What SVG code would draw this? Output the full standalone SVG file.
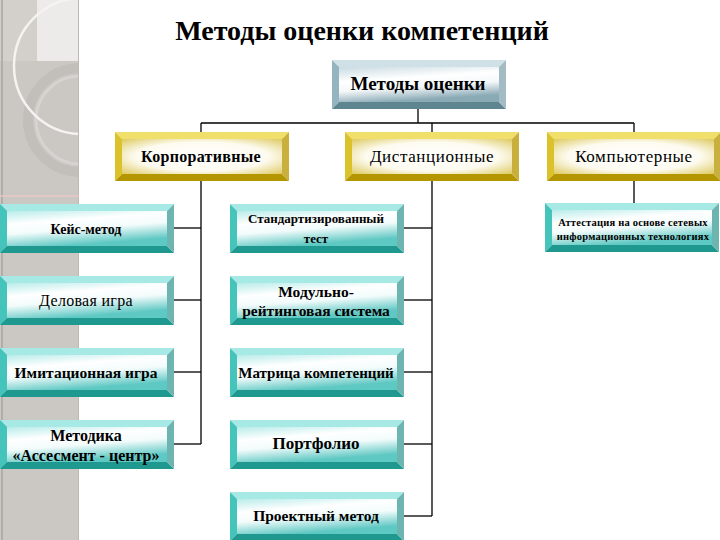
<svg xmlns="http://www.w3.org/2000/svg" width="720" height="540" viewBox="0 0 720 540">
<style>
  text { font-family: "Liberation Serif", "Times New Roman", "DejaVu Serif", serif; fill: #000; text-anchor: middle; }
  .b { font-weight: bold; }
  .conn line { stroke: #000; stroke-width: 1.3; }
</style>
<defs>
  <clipPath id="panelClip"><rect x="0" y="0" width="79" height="540"/></clipPath>
  <linearGradient id="tealFace" x1="0" y1="0" x2="0.35" y2="1">
    <stop offset="0" stop-color="#b8ecea"/>
    <stop offset="0.35" stop-color="#ffffff"/>
    <stop offset="0.6" stop-color="#f2fbfb"/>
    <stop offset="1" stop-color="#5ec8c3"/>
  </linearGradient>
  <radialGradient id="goldFace" cx="0.5" cy="0.5" r="0.75">
    <stop offset="0" stop-color="#ffffff"/>
    <stop offset="0.55" stop-color="#fdfbf0"/>
    <stop offset="1" stop-color="#d9c24a"/>
  </radialGradient>
  <linearGradient id="steelFace" x1="0" y1="0" x2="0.3" y2="1">
    <stop offset="0" stop-color="#c9dbe2"/>
    <stop offset="0.4" stop-color="#ffffff"/>
    <stop offset="0.65" stop-color="#f4f8f9"/>
    <stop offset="1" stop-color="#8aaab6"/>
  </linearGradient>
  <symbol id="teal" viewBox="0 0 174 49" width="174" height="49">
    <polygon points="0,0 174,0 167,7 7,7" fill="#a6e9e5"/>
    <polygon points="0,0 7,7 7,42 0,49" fill="#45c4bc"/>
    <polygon points="0,49 7,42 167,42 174,49" fill="#1f9890"/>
    <polygon points="174,0 174,49 167,42 167,7" fill="#6db5b1"/>
    <rect x="7" y="7" width="160" height="35" fill="url(#tealFace)"/>
  </symbol>
  <symbol id="gold" viewBox="0 0 174 49" width="174" height="49">
    <polygon points="0,0 174,0 167,7 7,7" fill="#f0df6a"/>
    <polygon points="0,0 7,7 7,42 0,49" fill="#dcc22a"/>
    <polygon points="0,49 7,42 167,42 174,49" fill="#b49600"/>
    <polygon points="174,0 174,49 167,42 167,7" fill="#c9b03c"/>
    <rect x="7" y="7" width="160" height="35" fill="url(#goldFace)"/>
  </symbol>
  <symbol id="steel" viewBox="0 0 174 49" width="174" height="49">
    <polygon points="0,0 174,0 167,7 7,7" fill="#cfe0e6"/>
    <polygon points="0,0 7,7 7,42 0,49" fill="#94b4bf"/>
    <polygon points="0,49 7,42 167,42 174,49" fill="#5f8690"/>
    <polygon points="174,0 174,49 167,42 167,7" fill="#a3bcc4"/>
    <rect x="7" y="7" width="160" height="35" fill="url(#steelFace)"/>
  </symbol>
</defs>

<rect x="0" y="0" width="720" height="540" fill="#ffffff"/>

<g id="panel" clip-path="url(#panelClip)">
  <rect x="0" y="0" width="79" height="540" fill="#cbc7c3"/>
  <rect x="0" y="0" width="37" height="61" fill="#d3d0cc"/>
  <rect x="37" y="0" width="42" height="61" fill="#ecebe9"/>
  <circle cx="80" cy="120" r="52" fill="none" stroke="#c2beba" stroke-width="10"/>
  <circle cx="80" cy="120" r="44" fill="none" stroke="#d6d3d0" stroke-width="3"/>
  <circle cx="82" cy="66" r="68" fill="none" stroke="#f4f3f1" stroke-width="2.5"/>
  <line x1="2" y1="0" x2="2" y2="540" stroke="#a9a5a1" stroke-width="1.5"/>
  <line x1="78.5" y1="0" x2="78.5" y2="540" stroke="#bdb9b5" stroke-width="1"/>
  <line x1="0" y1="196" x2="79" y2="196" stroke="#e9c9c9" stroke-width="1.5"/>
</g>

<text x="362" y="40" class="b" font-size="28">Методы оценки компетенций</text>

<g class="conn" id="connectors">
  <line x1="418" y1="108" x2="418" y2="123"/>
  <line x1="201" y1="123" x2="634" y2="123"/>
  <line x1="201" y1="123" x2="201" y2="132"/>
  <line x1="432" y1="123" x2="432" y2="132"/>
  <line x1="634" y1="123" x2="634" y2="132"/>
  <line x1="201" y1="180" x2="201" y2="444"/>
  <line x1="173" y1="228" x2="201" y2="228"/>
  <line x1="173" y1="300" x2="201" y2="300"/>
  <line x1="173" y1="372" x2="201" y2="372"/>
  <line x1="173" y1="444" x2="201" y2="444"/>
  <line x1="432" y1="180" x2="432" y2="516"/>
  <line x1="403" y1="228" x2="432" y2="228"/>
  <line x1="403" y1="300" x2="432" y2="300"/>
  <line x1="403" y1="372" x2="432" y2="372"/>
  <line x1="403" y1="444" x2="432" y2="444"/>
  <line x1="403" y1="516" x2="432" y2="516"/>
  <line x1="634" y1="180" x2="634" y2="203"/>
</g>

<g id="root">
  <use href="#steel" x="332" y="60"/>
  <text x="418" y="90" class="b" font-size="19">Методы оценки</text>
</g>

<g id="corp">
  <use href="#gold" x="115" y="132"/>
  <text x="201" y="162" class="b" font-size="16" letter-spacing="0.3">Корпоративные</text>
</g>
<g id="dist">
  <use href="#gold" x="345" y="132"/>
  <text x="432" y="162" font-size="17" letter-spacing="0.6">Дистанционные</text>
</g>
<g id="comp">
  <use href="#gold" x="547" y="132"/>
  <text x="634" y="162" font-size="17" letter-spacing="0.6">Компьютерные</text>
</g>

<g id="case">
  <use href="#teal" x="0" y="204"/>
  <text x="86" y="234" class="b" font-size="14">Кейс-метод</text>
</g>
<g id="business">
  <use href="#teal" x="0" y="276"/>
  <text x="86" y="306" font-size="16" letter-spacing="0.3">Деловая игра</text>
</g>
<g id="imitation">
  <use href="#teal" x="0" y="348"/>
  <text x="86" y="378" class="b" font-size="15.5">Имитационная игра</text>
</g>
<g id="assessment">
  <use href="#teal" x="0" y="420"/>
  <text x="86" y="441" class="b" font-size="16">Методика</text>
  <text x="86" y="461" class="b" font-size="16">«Ассесмент - центр»</text>
</g>

<g id="standard">
  <use href="#teal" x="230" y="204"/>
  <text x="316" y="223" class="b" font-size="13">Стандартизированный</text>
  <text x="316" y="243" class="b" font-size="13">тест</text>
</g>
<g id="modular">
  <use href="#teal" x="230" y="276"/>
  <text x="316" y="297" class="b" font-size="15.5">Модульно-</text>
  <text x="316" y="316" class="b" font-size="15.5">рейтинговая система</text>
</g>
<g id="matrix">
  <use href="#teal" x="230" y="348"/>
  <text x="316" y="378" class="b" font-size="15">Матрица компетенций</text>
</g>
<g id="portfolio">
  <use href="#teal" x="230" y="420"/>
  <text x="316" y="449" class="b" font-size="17">Портфолио</text>
</g>
<g id="project">
  <use href="#teal" x="230" y="492"/>
  <text x="316" y="521" class="b" font-size="15.5">Проектный метод</text>
</g>

<g id="attestation">
  <use href="#teal" x="545" y="203"/>
  <text x="633" y="226" class="b" font-size="10.5" letter-spacing="0.2">Аттестация на основе сетевых</text>
  <text x="633" y="240" class="b" font-size="10.5" letter-spacing="0.2">информационных технологиях</text>
</g>
</svg>
